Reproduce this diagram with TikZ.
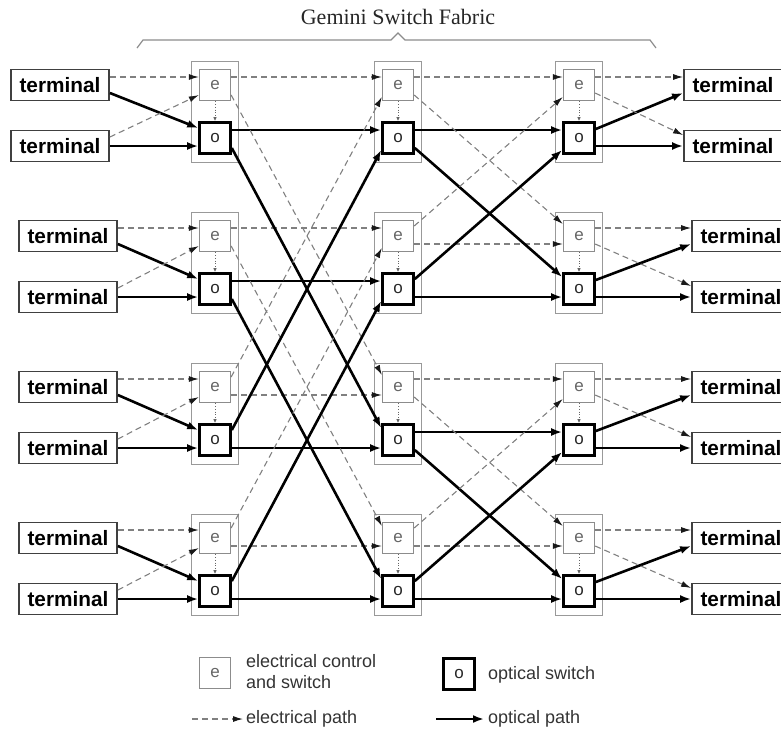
\documentclass[tikz,border=0pt]{standalone}
\usepackage{fontspec}
\setmainfont{Liberation Serif}
\setsansfont{Liberation Sans}
\usetikzlibrary{arrows.meta,fit}
\begin{document}
\begin{tikzpicture}[x=1pt,y=-1pt,
  ebox/.style={draw=black!45, line width=1.3pt, minimum size=31pt, inner sep=0pt,
    font=\sffamily\fontsize{17}{17}\selectfont, text=black!60},
  obox/.style={draw=black, line width=2.6pt, minimum size=31pt, inner sep=0pt,
    font=\sffamily\fontsize{17}{17}\selectfont, text=black!85},
  frame/.style={draw=black!40, line width=1pt, inner xsep=7pt, inner ysep=7.5pt},
  termbox/.style={draw=black!75, line width=1.8pt, minimum width=98pt, minimum height=31pt,
    inner sep=0pt, font=\sffamily\bfseries\fontsize{20.8}{21}\selectfont},
  epath/.style={draw=black!50, line width=1.1pt, dash pattern=on 6pt off 4pt,
    -{Latex[length=10pt,width=6pt,color=black!90]}},
  opath/.style={draw=black, line width=2.6pt, -{Latex[length=11pt,width=8pt]}},
  ctrl/.style={draw=black!60, line width=0.8pt, dotted, -{Latex[length=4pt,width=3.5pt]}},
  legtext/.style={inner sep=0pt, anchor=west, align=left, text=black!80,
    font=\sffamily\fontsize{18}{21}\selectfont},
]
\clip (0,0) rectangle (781,729);

% title and brace over the switch fabric
\node[font=\fontsize{22}{22}\selectfont, text=black!85] (title) at (398,17) {Gemini Switch Fabric};
\draw[black!45, line width=1.2pt] (137,48) -- (143,40) -- (391,40) -- (398,33)
  -- (405,40) -- (650,40) -- (656,48);

% switch elements: electrical box above optical box, in a frame
\foreach \st/\xp in {1/215,2/398,3/579} {
  \foreach \row/\yp in {1/85,2/236,3/387,4/538} {
    \node[ebox] (e\st\row) at (\xp,\yp) {e};
    \node[obox] (o\st\row) at (\xp,\yp+53) {o};
    \node[frame, fit=(e\st\row)(o\st\row)] (f\st\row) {};
    \draw[ctrl] (e\st\row) -- (o\st\row);
  }
}

% terminals
\foreach \row/\yp/\xl/\xr in {1/85/60/733, 2/236/68/741, 3/387/68/741, 4/538/68/741} {
  \node[termbox] (ina\row) at (\xl,\yp) {terminal};
  \node[termbox] (inb\row) at (\xl,\yp+61) {terminal};
  \node[termbox] (outa\row) at (\xr,\yp) {terminal};
  \node[termbox] (outb\row) at (\xr,\yp+61) {terminal};
}

% inputs into the first stage, outputs from the last stage
\foreach \row in {1,2,3,4} {
  \draw[epath] ([shift={(0,-8)}]ina\row.east) -- ([shift={(0,-8)}]e1\row.west);
  \draw[opath] ([shift={(0,8)}]ina\row.east) -- ([shift={(0,-10)}]o1\row.west);
  \draw[epath] ([shift={(0,-9)}]inb\row.east) -- ([shift={(0,10)}]e1\row.west);
  \draw[opath] (inb\row.east) -- ([shift={(0,8)}]o1\row.west);

  \draw[epath] ([shift={(0,-8)}]e3\row.east) -- ([shift={(0,-8)}]outa\row.west);
  \draw[opath] ([shift={(0,-9)}]o3\row.east) -- ([shift={(0,8)}]outa\row.west);
  \draw[epath] ([shift={(0,8)}]e3\row.east) -- ([shift={(0,-11)}]outb\row.west);
  \draw[opath] ([shift={(0,8)}]o3\row.east) -- (outb\row.west);
}

% straight links between stages
\foreach \st/\nx/\row/\dy in {1/2/1/-8, 1/2/2/-8, 1/2/3/8, 1/2/4/8,
                              2/3/1/-8, 2/3/2/8, 2/3/3/-8, 2/3/4/8} {
  \draw[epath] ([shift={(0,\dy)}]e\st\row.east) -- ([shift={(0,\dy)}]e\nx\row.west);
  \draw[opath] ([shift={(0,\dy)}]o\st\row.east) -- ([shift={(0,\dy)}]o\nx\row.west);
}

% crossing links between stages
\foreach \st/\nx/\row/\tg/\ya/\yb in {1/2/1/3/10/-12, 1/2/2/4/10/-12, 1/2/3/1/-10/12, 1/2/4/2/-10/12,
                                      2/3/1/2/10/-12, 2/3/2/1/-10/12, 2/3/3/4/10/-12, 2/3/4/3/-10/12} {
  \draw[epath] ([shift={(0,\ya)}]e\st\row.east) -- ([shift={(0,\yb)}]e\nx\tg.west);
  \draw[opath] ([shift={(0,\ya)}]o\st\row.east) -- ([shift={(0,\yb)}]o\nx\tg.west);
}

% legend
\node[ebox] (le) at (215,673) {e};
\node[legtext] (lte) at (246,672) {electrical control\\and switch};
\node[obox] (lo) at (459,674) {o};
\node[legtext] (lto) at (488,675) {optical switch};
\node[legtext] (lpe) at (246,719) {electrical path};
\node[legtext] (lpo) at (488,719) {optical path};
\coordinate (lpe0) at (192,719);
\coordinate (lpo0) at (436,719);
\draw[epath] (lpe0) -- ([shift={(-3,0)}]lpe.west);
\draw[opath] (lpo0) -- ([shift={(-4,0)}]lpo.west);
\end{tikzpicture}
\end{document}
